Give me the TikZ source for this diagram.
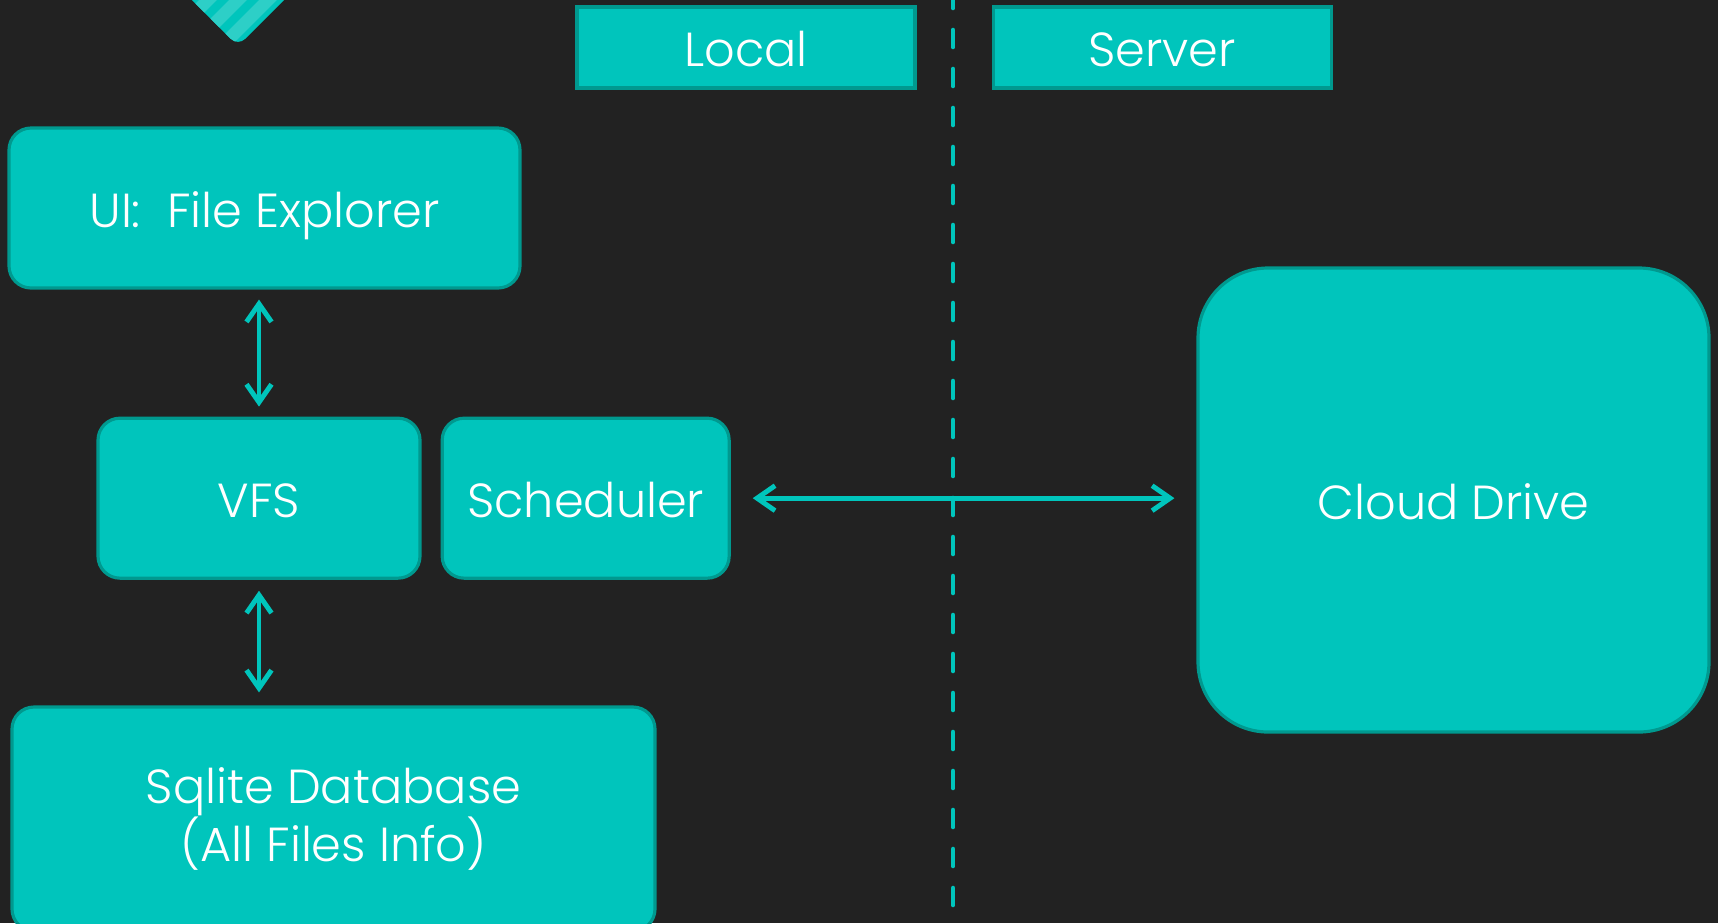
\documentclass[tikz,border=0pt]{standalone}
\usepackage{fontspec}
\setmainfont{Poppins Light}
\usetikzlibrary{positioning}
\usetikzlibrary{calc}
\usetikzlibrary{arrows.meta}
\definecolor{bg}{HTML}{222222}
\definecolor{aqua}{HTML}{00C5BC}
\definecolor{aquadark}{HTML}{00998F}
\definecolor{aqualight}{HTML}{2DCFC7}
\tikzset{
b/.style={
  rectangle,
  rounded corners=2.2mm,
  inner sep=0pt,
  align=center,
  draw=aquadark,
  line width=0.9pt,
  fill=aqua,
  text=white,
  text height=1.1em,
  text depth=0pt,
  font=\fontsize{13.6}{16.4}\selectfont
  },
tag/.style={b,rounded corners=0pt,minimum width=3.38cm,minimum height=0.81cm},
lnk/.style={
  {Straight Barb[length=1.8mm,width=2.5mm]}-{Straight Barb[length=1.8mm,width=2.5mm]},
  draw=aqua,line width=1.4pt,line cap=round,line join=round
  },
sep/.style={draw=aqua,line width=1.3pt,line cap=round,dash pattern=on 0.17cm off 0.22cm}
}

\begin{document}
\begin{tikzpicture}
    \clip (0,0) rectangle (17.18,-9.23);
    \fill[bg] (0,0) rectangle (17.18,-9.23);

    % striped corner mark
    \begin{scope}
    \clip[rounded corners=1mm] (1.82,0.1) -- (2.38,-0.46) -- (2.94,0.1) -- cycle;
    \fill[aqua] (1.8,-0.5) rectangle (3,0.2);
    \foreach \s in {-0.9,-0.6,...,0.9}
      \draw[aqualight,line width=3.6pt] (2.38+\s-0.6,-0.6) -- (2.38+\s+0.2,0.2);
    \end{scope}

    \node[b,minimum width=5.11cm,minimum height=1.6cm] (ui) at (2.645,-2.08) {UI:\ \ File Explorer};
    \node[b,minimum width=3.22cm,minimum height=1.6cm] (vfs) [below = 1.27cm of ui,xshift=-0.055cm] {VFS};
    \node[b,minimum width=2.87cm,minimum height=1.6cm] (sched) [right = 0.19cm of vfs] {Scheduler};
    \node[b,text height=,text depth=,minimum width=6.43cm,minimum height=2.24cm] (db) at (3.335,-8.19) {Sqlite Database\\(All Files Info)};
    \node[b,rounded corners=7mm,minimum width=5.11cm,minimum height=4.64cm] (cloud) at (14.535,-5.0) {Cloud Drive};

    \node[tag] (local) at (7.46,-0.475) {Local};
    \node[tag] (server) [right = 0.75cm of local] {Server};

    % local / server divide
    \draw[sep] (9.53,0.09) -- (9.53,-9.4);

    \path
    (vfs.north |- ui.south) edge[lnk,shorten <=1mm,shorten >=1mm] (vfs.north)
    (vfs.south) edge[lnk,shorten <=1.1mm,shorten >=1.3mm] (vfs.south |- db.north)
    (sched.east) edge[lnk,shorten <=2.2mm,shorten >=2.2mm] (sched.east -| cloud.west)
    ;
\end{tikzpicture}
\end{document}
